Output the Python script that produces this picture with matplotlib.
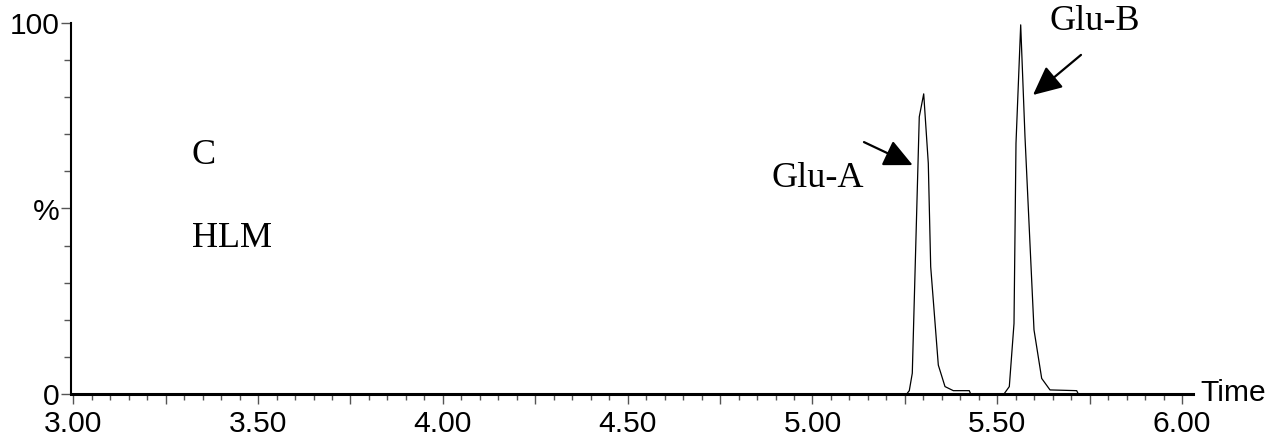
import matplotlib
matplotlib.use("Agg")
import matplotlib.pyplot as plt
from matplotlib.ticker import MultipleLocator, FuncFormatter

# Chromatogram trace (time in min, relative intensity %)
time = [3.00, 5.2548, 5.2619, 5.2700, 5.2889, 5.3009, 5.3133, 5.3198, 5.3404, 5.3585, 5.3810, 5.4242, 5.4280,
        5.5181, 5.5325, 5.5452, 5.5506, 5.5633, 5.5749, 5.5993, 5.6201, 5.6426, 5.7148, 5.7192, 6.00]
intensity = [0.0, 0.0, 0.9, 5.6, 74.7, 80.9, 62.2, 34.3, 7.8, 2.0, 0.9, 0.9, 0.0,
             0.0, 2.0, 19.0, 67.6, 99.5, 69.4, 17.3, 4.2, 1.1, 0.9, 0.0, 0.0]

x_major_labels = [3.00, 3.50, 4.00, 4.50, 5.00, 5.50, 6.00]
y_tick_values = [0, 50, 100]
y_tick_labels = ["0", "%", "100"]

peak_names = ["Glu-A", "Glu-B"]
peak_label_pos = [(5.0148, 58.2), (5.7643, 100.3)]
arrow_tail = [(5.1393, 67.9), (5.7264, 91.4)]
arrow_tip = [(5.2711, 61.7), (5.5966, 80.6)]

panel_texts = ["C", "HLM"]
panel_text_pos = [(3.3211, 64.4), (3.3211, 42.0)]

sans = "Liberation Sans"
serif = "Liberation Serif"

fig = plt.figure(figsize=(12.72, 4.48), dpi=100)
ax = fig.add_axes([71/1272, 1-394/448, (1193-71)/1272, (394-23)/448])

ax.plot(time, intensity, color="black", lw=0.9, zorder=3)

ax.set_xlim(2.9938, 6.0295)
ax.set_ylim(0, 100)

for s in ["top", "right"]:
    ax.spines[s].set_visible(False)
ax.spines["left"].set_linewidth(1.5)
ax.spines["bottom"].set_linewidth(2.2)
ax.spines["bottom"].set_zorder(4)

ax.xaxis.set_major_locator(MultipleLocator(0.25))
ax.xaxis.set_minor_locator(MultipleLocator(0.05))
ax.xaxis.set_major_formatter(FuncFormatter(
    lambda v, p: f"{v:.2f}" if any(abs(v - m) < 1e-6 for m in x_major_labels) else ""))
ax.set_yticks(y_tick_values)
ax.set_yticklabels(y_tick_labels)
ax.yaxis.set_minor_locator(MultipleLocator(10))

ax.tick_params(axis="x", which="major", direction="out", length=7.5, width=1, color="#555555", pad=4)
ax.tick_params(axis="x", which="minor", direction="out", length=4.5, width=1, color="#555555")
ax.tick_params(axis="y", which="major", direction="out", length=7, width=1, color="#555555", pad=1)
ax.tick_params(axis="y", which="minor", direction="out", length=5, width=1, color="#555555")
for lab in ax.get_xticklabels() + ax.get_yticklabels():
    lab.set_fontfamily(sans)
    lab.set_fontsize(21.6)

fig.text(1200/1272, 1-393/448, "Time", family=sans, fontsize=21.6, ha="left", va="center")

for t, (px, py) in zip(panel_texts, panel_text_pos):
    ax.text(px, py, t, family=serif, fontsize=26, ha="left", va="center")

for name, (lx, ly) in zip(peak_names, peak_label_pos):
    ax.text(lx, ly, name, family=serif, fontsize=26, ha="center", va="center", clip_on=False)

for (tx, ty), (hx, hy) in zip(arrow_tail, arrow_tip):
    ax.annotate("", xy=(hx, hy), xytext=(tx, ty),
                arrowprops=dict(arrowstyle="-|>,head_length=0.8,head_width=0.38",
                                mutation_scale=22, color="black", lw=1.6,
                                shrinkA=0, shrinkB=0))

fig.savefig("out.png", dpi=100)
